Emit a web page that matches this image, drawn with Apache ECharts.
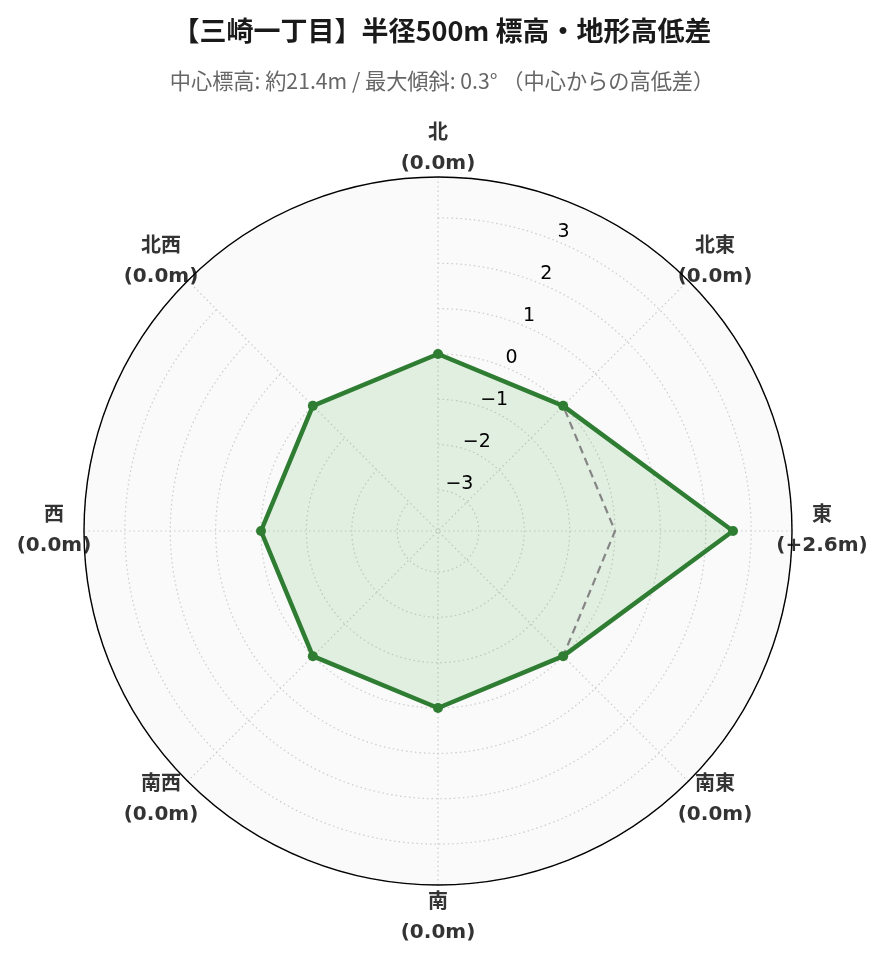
<!DOCTYPE html>
<html lang="ja">
<head>
<meta charset="UTF-8">
<title>標高・地形高低差</title>
<script src="https://cdn.jsdelivr.net/npm/echarts@6.0.0/dist/echarts.min.js"></script>
<style>
    html, body { margin: 0; padding: 0; background: #fff; }
    #main { width: 884px; height: 962px; }
</style>
</head>
<body>
<div id="main"></div>
<script>
// 8方位（北から時計回り）と中心からの高低差(m)
var directions = ['北', '北東', '東', '南東', '南', '南西', '西', '北西'];
var heightDiffs = [0.0, 0.0, 2.6, 0.0, 0.0, 0.0, 0.0, 0.0];
var zeroLine = [0, 0, 0, 0, 0, 0, 0, 0];
var radialTicks = [-3, -2, -1, 0, 1, 2, 3];
var rMin = -3.9, rMax = 3.9;

var titleText = '【三崎一丁目】半径500m 標高・地形高低差';
var subText = '中心標高: 約21.4m / 最大傾斜: 0.3° （中心からの高低差）';

var cx = 438, cy = 531, R = 354;

// 方位ラベルの位置合わせ用の余白（上/右/下/左）
var labelPad = {
    '北': [0, 0, 14, 0],
    '南': [19, 0, 0, 0],
    '西': [0, 8, 0, 0]
};

function fmtDiff(v) {
    return '(' + (v > 0 ? '+' : '') + v.toFixed(1) + 'm)';
}

var angleData = directions.map(function (d, i) {
    return {
        value: d,
        textStyle: { padding: labelPad[d] || 0 }
    };
});

// radar は反時計回りに並ぶので順番を入れ替える
var order = directions.map(function (_, i) { return (8 - i) % 8; });

var labelFont = 'DejaVu Sans, Noto Sans CJK JP';
var dotted = { color: '#cccccc', type: [1.5, 3], width: 1.2 };

var myChart = echarts.init(document.getElementById('main'));
var option = {
    backgroundColor: '#ffffff',
    animation: false,
    title: [
        {
            text: titleText, left: 'center', top: 12, padding: [5, 5, 5, 18],
            textStyle: { fontFamily: 'Noto Sans CJK JP', fontWeight: 'bold', fontSize: 27, color: '#1a1a1a' }
        },
        {
            text: subText, left: 'center', top: 65, padding: [5, 13, 5, 5],
            textStyle: { fontFamily: 'Noto Sans CJK JP', fontWeight: 'normal', fontSize: 21.2, color: '#666666' }
        }
    ],
    polar: [
        { center: [cx, cy], radius: R },
        { center: [cx + 1 + 12.6 * Math.sin(Math.PI / 8), cy + 2 - 12.6 * Math.cos(Math.PI / 8)], radius: R },
        { center: [cx, cy], radius: R }
    ],
    angleAxis: [
        {
            polarIndex: 0, type: 'category', data: angleData, startAngle: 90, clockwise: true, boundaryGap: false, z: 1,
            axisLine: { show: false },
            axisTick: { show: false },
            axisLabel: {
                interval: 0, margin: -16, color: '#333', fontFamily: labelFont,
                formatter: function (d) {
                    var v = heightDiffs[directions.indexOf(d)];
                    var key = v !== 0 ? 'w' : 'n';
                    return '{' + key + '|' + d + '}\n{' + key + '|' + fmtDiff(v) + '}';
                },
                rich: {
                    n: { width: 76, align: 'center', fontSize: 20, fontWeight: 'bold', lineHeight: 30, color: '#333', fontFamily: labelFont },
                    w: { width: 92, align: 'center', fontSize: 20, fontWeight: 'bold', lineHeight: 30, color: '#333', fontFamily: labelFont }
                }
            },
            splitLine: { show: true, lineStyle: dotted },
            splitArea: { show: false }
        },
        { polarIndex: 1, type: 'value', startAngle: 67.5, show: false },
        {
            polarIndex: 2, type: 'value', min: 0, max: 360, startAngle: 90, z: 2,
            axisLine: { show: true, lineStyle: { color: '#000', width: 1.4 } },
            axisTick: { show: false }, axisLabel: { show: false }, splitLine: { show: false }
        }
    ],
    radiusAxis: [
        {
            polarIndex: 0, min: rMin, max: rMax, splitNumber: 8, minInterval: 1, maxInterval: 1, z: 1,
            axisLine: { show: false }, axisTick: { show: false }, axisLabel: { show: false },
            splitLine: { show: true, lineStyle: dotted }
        },
        {
            polarIndex: 1, min: rMin, max: rMax, splitNumber: 8, minInterval: 1, maxInterval: 1, z: 4,
            axisLine: { show: false }, axisTick: { show: false }, splitLine: { show: false },
            axisLabel: {
                margin: 0, align: 'center', verticalAlign: 'middle', color: '#000', fontSize: 19,
                fontFamily: 'DejaVu Sans',
                formatter: function (v) {
                    return radialTicks.indexOf(v) >= 0 ? String(v).replace('-', '\u2212') : '';
                }
            }
        },
        { polarIndex: 2, show: false }
    ],
    radar: {
        center: [cx, cy], radius: R, startAngle: 90, shape: 'circle', splitNumber: 1, z: 0,
        indicator: order.map(function (i) { return { name: directions[i], min: rMin, max: rMax }; }),
        axisName: { show: false },
        axisLine: { show: false }, splitLine: { show: false },
        splitArea: { show: true, areaStyle: { color: ['#fafafa'] } }
    },
    series: [
        {
            type: 'radar', z: 3,
            data: [
                {
                    // 塗りつぶし
                    value: order.map(function (i) { return heightDiffs[i]; }),
                    symbol: 'none',
                    lineStyle: { width: 0, opacity: 0 },
                    areaStyle: { color: 'rgba(76,175,80,0.2)' }
                },
                {
                    // 基準線 (0m)
                    value: order.map(function (i) { return zeroLine[i]; }),
                    symbol: 'none',
                    lineStyle: { color: '#858585', width: 2.2, type: [8, 5] }
                },
                {
                    value: order.map(function (i) { return heightDiffs[i]; }),
                    symbol: 'circle', symbolSize: 10,
                    itemStyle: { color: '#2e7d32' },
                    lineStyle: { color: '#2e7d32', width: 4.5 }
                }
            ]
        }
    ]
};
myChart.setOption(option);
</script>
</body>
</html>
